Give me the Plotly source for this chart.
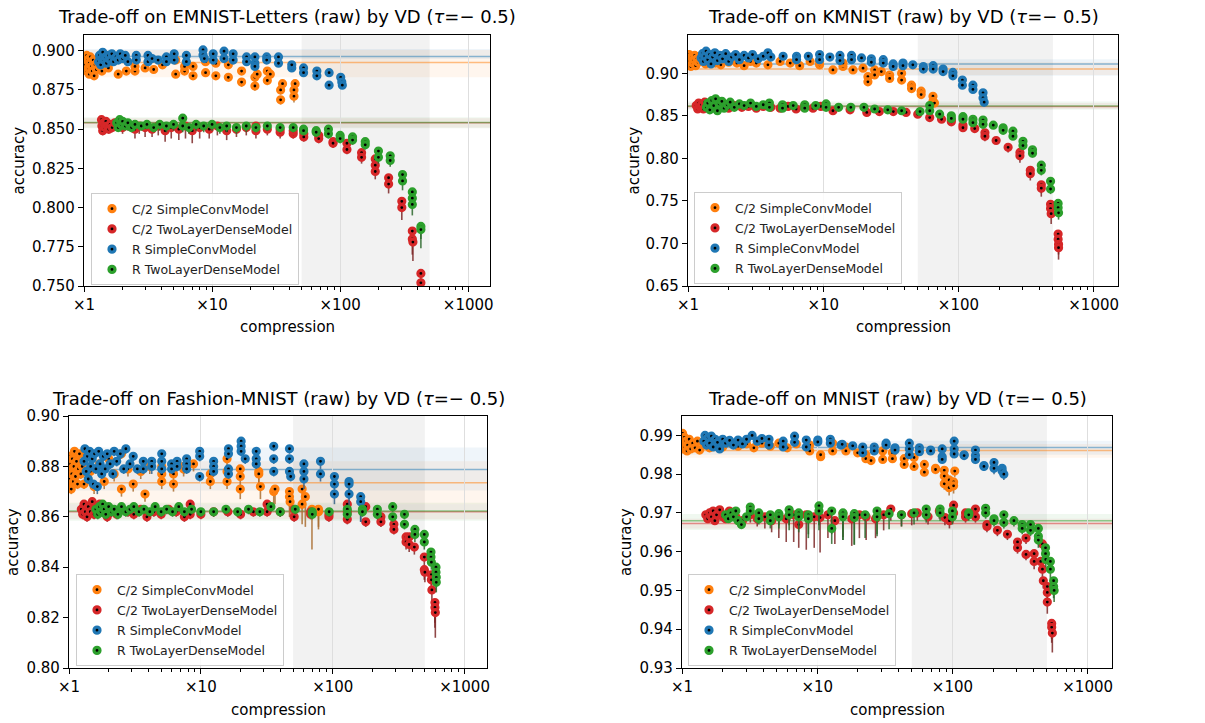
import plotly.graph_objects as go

FONT = "DejaVu Sans"
W, H = 1205, 723

SERIES_NAMES = ["C/2 SimpleConvModel", "C/2 TwoLayerDenseModel",
                "R SimpleConvModel", "R TwoLayerDenseModel"]
SERIES_COLORS = ["#ff7f0e", "#d62728", "#1f77b4", "#2ca02c"]
ERR_COLORS = ["rgba(170,110,50,0.85)", "rgba(125,40,40,0.85)",
              "rgba(50,95,135,0.85)", "rgba(45,105,45,0.85)"]

PANEL_TITLES = [
    "Trade-off on EMNIST-Letters (raw) by VD (<i>τ</i>=− 0.5)",
    "Trade-off on KMNIST (raw) by VD (<i>τ</i>=− 0.5)",
    "Trade-off on Fashion-MNIST (raw) by VD (<i>τ</i>=− 0.5)",
    "Trade-off on MNIST (raw) by VD (<i>τ</i>=− 0.5)",
]
X_TICK_VALS = [1, 10, 100, 1000]
X_TICK_TEXT = ["×1", "×10", "×100", "×1000"]
HIGHLIGHT_RANGE = [50, 500]

# ---------------- EMNIST-Letters: (compression, accuracy, lower error) ----------------
EM_C2_CONV = [
    (1.00, 0.889, 0.002), (1.00, 0.893, 0.002), (1.02, 0.896, 0.002), (1.03, 0.891, 0.002),
    (1.05, 0.887, 0.002), (1.05, 0.897, 0.001), (1.07, 0.894, 0.002), (1.08, 0.889, 0.002),
    (1.10, 0.885, 0.002), (1.10, 0.892, 0.002), (1.12, 0.896, 0.001), (1.14, 0.890, 0.002),
    (1.16, 0.887, 0.002), (1.18, 0.894, 0.002), (1.20, 0.884, 0.002), (1.22, 0.891, 0.002),
    (1.25, 0.888, 0.002), (1.28, 0.893, 0.002), (1.32, 0.890, 0.002), (1.38, 0.887, 0.002),
    (1.45, 0.892, 0.002), (1.55, 0.889, 0.002), (1.65, 0.893, 0.002), (1.85, 0.885, 0.002),
    (2.14, 0.887, 0.002), (2.50, 0.887, 0.002), (2.50, 0.890, 0.002), (3.00, 0.889, 0.002),
    (3.50, 0.888, 0.002), (4.10, 0.891, 0.002), (5.20, 0.885, 0.002), (5.20, 0.894, 0.002),
    (6.10, 0.887, 0.002), (6.10, 0.890, 0.002), (7.10, 0.884, 0.002), (7.10, 0.890, 0.002),
    (8.90, 0.886, 0.002), (8.90, 0.893, 0.002), (10.7, 0.884, 0.002), (10.7, 0.892, 0.002),
    (13.4, 0.883, 0.002), (13.4, 0.891, 0.002), (17.0, 0.880, 0.003), (17.0, 0.887, 0.002),
    (21.6, 0.8775, 0.003), (21.6, 0.883, 0.003), (22.5, 0.885, 0.002), (27.0, 0.881, 0.003),
    (27.0, 0.887, 0.002), (28.5, 0.885, 0.002), (34.3, 0.8687, 0.003), (34.3, 0.875, 0.003),
    (35.5, 0.879, 0.003), (43.6, 0.871, 0.004), (43.6, 0.875, 0.003), (44.5, 0.879, 0.003),
]
EM_C2_DENSE = [
    (1.37, 0.856, 0.002), (1.38, 0.852, 0.003), (1.40, 0.849, 0.003), (1.42, 0.854, 0.002),
    (1.45, 0.851, 0.003), (1.48, 0.855, 0.002), (1.52, 0.852, 0.003), (1.56, 0.850, 0.003),
    (1.60, 0.853, 0.003), (1.66, 0.851, 0.003), (1.74, 0.854, 0.003), (1.85, 0.852, 0.003),
    (2.00, 0.851, 0.004), (2.20, 0.853, 0.004), (2.50, 0.850, 0.006), (2.70, 0.852, 0.005),
    (3.00, 0.851, 0.006), (3.40, 0.850, 0.005), (3.80, 0.852, 0.006), (4.30, 0.849, 0.007),
    (4.80, 0.851, 0.007), (5.50, 0.850, 0.007), (6.20, 0.852, 0.008), (7.00, 0.849, 0.008),
    (8.00, 0.851, 0.007), (9.50, 0.850, 0.006), (11.0, 0.852, 0.006), (13.0, 0.849, 0.006),
    (15.5, 0.850, 0.005), (18.5, 0.851, 0.005), (22.0, 0.852, 0.004), (22.0, 0.849, 0.005),
    (27.0, 0.850, 0.004), (34.0, 0.848, 0.004), (34.0, 0.850, 0.003), (43.0, 0.847, 0.003),
    (43.0, 0.849, 0.003), (52.0, 0.847, 0.003), (52.0, 0.845, 0.003), (68.0, 0.846, 0.003),
    (68.0, 0.844, 0.003), (88.0, 0.842, 0.003), (88.0, 0.841, 0.003), (113, 0.841, 0.003),
    (113, 0.837, 0.003), (147, 0.835, 0.004), (147, 0.832, 0.004), (188, 0.831, 0.004),
    (188, 0.827, 0.004), (188, 0.823, 0.005), (239, 0.819, 0.005), (239, 0.815, 0.006),
    (303, 0.804, 0.006), (303, 0.800, 0.008), (366, 0.785, 0.008), (366, 0.780, 0.010),
    (370, 0.778, 0.012), (427, 0.758, 0.008), (427, 0.752, 0.008), (430, 0.746, 0.008),
]
EM_R_CONV = [
    (1.30, 0.893, 0.002), (1.32, 0.897, 0.002), (1.35, 0.891, 0.002), (1.38, 0.895, 0.002),
    (1.40, 0.899, 0.002), (1.43, 0.894, 0.002), (1.47, 0.896, 0.002), (1.50, 0.892, 0.002),
    (1.55, 0.897, 0.002), (1.60, 0.894, 0.002), (1.65, 0.898, 0.002), (1.70, 0.893, 0.002),
    (1.78, 0.896, 0.002), (1.85, 0.894, 0.002), (1.92, 0.898, 0.002), (2.00, 0.895, 0.002),
    (2.10, 0.897, 0.002), (2.20, 0.893, 0.002), (2.56, 0.897, 0.002), (2.56, 0.894, 0.002),
    (3.16, 0.897, 0.002), (3.16, 0.893, 0.002), (3.40, 0.895, 0.002), (3.79, 0.894, 0.002),
    (4.40, 0.896, 0.002), (4.40, 0.893, 0.002), (5.06, 0.898, 0.002), (5.06, 0.894, 0.002),
    (6.30, 0.897, 0.002), (6.30, 0.893, 0.002), (8.50, 0.9005, 0.002), (8.50, 0.8973, 0.002),
    (8.70, 0.895, 0.002), (10.2, 0.898, 0.002), (10.2, 0.894, 0.002), (12.4, 0.8997, 0.002),
    (12.4, 0.895, 0.002), (14.6, 0.898, 0.002), (14.6, 0.894, 0.002), (18.6, 0.896, 0.002),
    (18.6, 0.893, 0.002), (21.6, 0.896, 0.002), (21.6, 0.892, 0.002), (21.6, 0.890, 0.002),
    (26.7, 0.896, 0.002), (26.7, 0.894, 0.002), (33.0, 0.896, 0.003), (33.0, 0.892, 0.002),
    (41.9, 0.889, 0.002), (41.9, 0.891, 0.002), (51.8, 0.889, 0.002), (51.8, 0.886, 0.002),
    (65.8, 0.887, 0.002), (65.8, 0.884, 0.002), (82.0, 0.886, 0.002), (82.0, 0.878, 0.002),
    (101, 0.883, 0.002), (103, 0.880, 0.002), (104, 0.878, 0.002),
]
EM_R_DENSE = [
    (1.80, 0.854, 0.002), (1.85, 0.851, 0.002), (1.90, 0.856, 0.002), (1.95, 0.853, 0.002),
    (2.00, 0.855, 0.002), (2.10, 0.852, 0.002), (2.20, 0.854, 0.002), (2.35, 0.851, 0.003),
    (2.50, 0.853, 0.003), (2.80, 0.852, 0.003), (3.10, 0.853, 0.003), (3.50, 0.851, 0.003),
    (3.90, 0.853, 0.004), (4.40, 0.852, 0.004), (5.00, 0.853, 0.004), (5.90, 0.857, 0.003),
    (5.90, 0.852, 0.004), (6.60, 0.851, 0.004), (7.50, 0.853, 0.004), (8.60, 0.852, 0.004),
    (10.0, 0.853, 0.004), (11.5, 0.851, 0.004), (13.0, 0.852, 0.004), (15.5, 0.851, 0.004),
    (18.5, 0.852, 0.004), (22.0, 0.851, 0.003), (27.0, 0.852, 0.003), (34.0, 0.851, 0.003),
    (43.0, 0.851, 0.003), (51.8, 0.850, 0.003), (51.8, 0.849, 0.003), (65.0, 0.849, 0.003),
    (65.0, 0.848, 0.003), (81.0, 0.850, 0.003), (81.0, 0.847, 0.003), (100, 0.846, 0.003),
    (100, 0.844, 0.003), (125, 0.845, 0.003), (125, 0.843, 0.003), (157, 0.842, 0.003),
    (157, 0.840, 0.003), (199, 0.836, 0.004), (199, 0.832, 0.004), (246, 0.833, 0.004),
    (246, 0.830, 0.004), (307, 0.821, 0.005), (307, 0.817, 0.006), (366, 0.810, 0.006),
    (366, 0.806, 0.006), (366, 0.802, 0.007), (427, 0.788, 0.008), (427, 0.786, 0.012),
]
EM_REF_MEAN = [0.8924, 0.8540, 0.8963, 0.8542]
EM_REF_LOW = [0.8830, 0.8510, 0.8947, 0.8506]
EM_REF_HIGH = [0.9005, 0.8570, 0.9010, 0.8576]

# ---------------- KMNIST ----------------
KM_C2_CONV = [
    (1.00, 0.910, 0.002), (1.00, 0.918, 0.002), (1.02, 0.922, 0.002), (1.03, 0.914, 0.002),
    (1.05, 0.908, 0.002), (1.06, 0.919, 0.002), (1.08, 0.912, 0.002), (1.10, 0.916, 0.002),
    (1.12, 0.921, 0.002), (1.14, 0.909, 0.002), (1.16, 0.917, 0.002), (1.19, 0.913, 0.002),
    (1.22, 0.920, 0.002), (1.25, 0.915, 0.002), (1.35, 0.911, 0.002), (1.45, 0.914, 0.002),
    (1.60, 0.912, 0.002), (1.75, 0.910, 0.002), (2.00, 0.913, 0.002), (2.30, 0.912, 0.002),
    (2.60, 0.909, 0.002), (2.90, 0.914, 0.002), (3.20, 0.912, 0.002), (3.90, 0.910, 0.002),
    (4.80, 0.914, 0.002), (5.70, 0.912, 0.002), (6.70, 0.909, 0.002), (8.00, 0.914, 0.002),
    (9.40, 0.910, 0.002), (9.40, 0.914, 0.002), (11.8, 0.904, 0.003), (14.0, 0.908, 0.003),
    (14.0, 0.912, 0.002), (16.6, 0.904, 0.003), (19.7, 0.906, 0.003), (21.4, 0.896, 0.003),
    (21.4, 0.890, 0.003), (24.0, 0.904, 0.003), (24.0, 0.898, 0.003), (26.9, 0.902, 0.003),
    (31.0, 0.898, 0.003), (31.0, 0.894, 0.003), (38.0, 0.900, 0.003), (38.0, 0.892, 0.003),
    (45.0, 0.886, 0.004), (45.0, 0.882, 0.004), (53.0, 0.879, 0.004), (53.0, 0.875, 0.004),
    (64.8, 0.873, 0.004), (64.8, 0.867, 0.004), (66.5, 0.865, 0.004),
]
KM_C2_DENSE = [
    (1.15, 0.862, 0.003), (1.18, 0.858, 0.003), (1.20, 0.865, 0.003), (1.23, 0.860, 0.003),
    (1.26, 0.863, 0.003), (1.30, 0.858, 0.003), (1.33, 0.866, 0.003), (1.37, 0.861, 0.003),
    (1.42, 0.864, 0.003), (1.48, 0.859, 0.003), (1.55, 0.862, 0.003), (1.65, 0.860, 0.003),
    (1.80, 0.863, 0.003), (2.00, 0.859, 0.003), (2.20, 0.862, 0.004), (2.50, 0.860, 0.004),
    (2.80, 0.861, 0.004), (3.20, 0.859, 0.004), (3.60, 0.861, 0.004), (4.10, 0.860, 0.004),
    (4.80, 0.859, 0.004), (5.50, 0.861, 0.004), (6.30, 0.858, 0.004), (7.20, 0.860, 0.004),
    (8.40, 0.859, 0.004), (9.60, 0.861, 0.004), (11.8, 0.856, 0.004), (15.8, 0.857, 0.004),
    (21.0, 0.854, 0.004), (26.0, 0.855, 0.004), (33.0, 0.855, 0.004), (41.0, 0.854, 0.004),
    (50.0, 0.852, 0.004), (61.3, 0.848, 0.004), (75.0, 0.846, 0.004), (88.6, 0.845, 0.004),
    (88.6, 0.843, 0.004), (108, 0.839, 0.004), (108, 0.836, 0.004), (132, 0.835, 0.004),
    (157, 0.830, 0.006), (157, 0.826, 0.006), (190, 0.821, 0.004), (233, 0.813, 0.006),
    (285, 0.807, 0.006), (285, 0.803, 0.008), (340, 0.786, 0.008), (340, 0.782, 0.008),
    (410, 0.769, 0.010), (410, 0.765, 0.010), (480, 0.746, 0.010), (480, 0.741, 0.010),
    (485, 0.735, 0.012), (546, 0.711, 0.010), (546, 0.705, 0.010), (550, 0.699, 0.012),
    (550, 0.695, 0.014),
]
KM_R_CONV = [
    (1.25, 0.918, 0.002), (1.28, 0.923, 0.002), (1.30, 0.914, 0.002), (1.33, 0.920, 0.002),
    (1.36, 0.926, 0.002), (1.40, 0.916, 0.002), (1.44, 0.922, 0.002), (1.48, 0.911, 0.002),
    (1.52, 0.919, 0.002), (1.58, 0.924, 0.002), (1.65, 0.915, 0.002), (1.72, 0.921, 0.002),
    (1.80, 0.917, 0.002), (1.90, 0.923, 0.002), (2.00, 0.914, 0.002), (2.10, 0.919, 0.002),
    (2.25, 0.922, 0.002), (2.40, 0.916, 0.002), (2.60, 0.921, 0.002), (2.80, 0.918, 0.002),
    (3.00, 0.922, 0.002), (3.30, 0.917, 0.002), (3.60, 0.920, 0.002), (3.90, 0.924, 0.002),
    (4.10, 0.919, 0.002), (5.05, 0.920, 0.002), (6.35, 0.920, 0.002), (6.35, 0.916, 0.002),
    (7.76, 0.920, 0.002), (9.40, 0.922, 0.002), (9.40, 0.916, 0.002), (11.2, 0.919, 0.002),
    (13.3, 0.921, 0.002), (13.3, 0.915, 0.002), (16.2, 0.921, 0.002), (16.2, 0.916, 0.002),
    (19.2, 0.918, 0.002), (22.7, 0.917, 0.002), (22.7, 0.913, 0.002), (27.8, 0.916, 0.002),
    (27.8, 0.912, 0.002), (32.9, 0.911, 0.002), (32.9, 0.908, 0.002), (38.9, 0.912, 0.002),
    (38.9, 0.909, 0.002), (46.0, 0.910, 0.002), (55.0, 0.908, 0.002), (55.0, 0.905, 0.002),
    (65.0, 0.909, 0.002), (65.0, 0.905, 0.002), (77.0, 0.905, 0.002), (77.0, 0.902, 0.002),
    (91.0, 0.901, 0.003), (91.0, 0.897, 0.003), (107, 0.892, 0.003), (107, 0.886, 0.003),
    (128, 0.886, 0.004), (128, 0.881, 0.004), (152, 0.877, 0.004), (152, 0.871, 0.004),
    (155, 0.866, 0.005),
]
KM_R_DENSE = [
    (1.37, 0.860, 0.002), (1.40, 0.865, 0.002), (1.45, 0.857, 0.002), (1.50, 0.868, 0.002),
    (1.55, 0.862, 0.002), (1.60, 0.870, 0.002), (1.65, 0.856, 0.002), (1.70, 0.864, 0.002),
    (1.78, 0.867, 0.002), (1.85, 0.859, 0.002), (1.95, 0.863, 0.002), (2.05, 0.866, 0.002),
    (2.20, 0.860, 0.002), (2.40, 0.864, 0.002), (2.60, 0.862, 0.002), (2.90, 0.865, 0.002),
    (3.20, 0.861, 0.002), (3.60, 0.863, 0.002), (4.00, 0.865, 0.002), (4.00, 0.860, 0.002),
    (5.00, 0.863, 0.002), (5.00, 0.859, 0.002), (6.00, 0.862, 0.003), (7.30, 0.863, 0.003),
    (7.30, 0.859, 0.003), (8.80, 0.862, 0.003), (10.5, 0.864, 0.003), (10.5, 0.860, 0.003),
    (13.0, 0.860, 0.003), (16.0, 0.860, 0.003), (20.0, 0.860, 0.003), (24.0, 0.858, 0.003),
    (30.0, 0.857, 0.003), (38.0, 0.856, 0.003), (52.0, 0.855, 0.003), (61.3, 0.862, 0.003),
    (61.3, 0.856, 0.003), (72.6, 0.852, 0.003), (88.6, 0.850, 0.003), (88.6, 0.847, 0.003),
    (108, 0.849, 0.003), (108, 0.846, 0.003), (128, 0.846, 0.003), (128, 0.842, 0.003),
    (152, 0.845, 0.003), (152, 0.840, 0.003), (181, 0.839, 0.003), (214, 0.836, 0.003),
    (214, 0.833, 0.003), (253, 0.832, 0.004), (253, 0.826, 0.004), (300, 0.820, 0.004),
    (300, 0.815, 0.004), (353, 0.810, 0.005), (353, 0.806, 0.005), (410, 0.792, 0.006),
    (410, 0.786, 0.006), (480, 0.773, 0.006), (480, 0.764, 0.006), (546, 0.747, 0.006),
    (546, 0.742, 0.006), (550, 0.736, 0.008),
]
KM_REF_MEAN = [0.9050, 0.8610, 0.9110, 0.8617]
KM_REF_LOW = [0.8980, 0.8580, 0.8970, 0.8570]
KM_REF_HIGH = [0.9130, 0.8650, 0.9166, 0.8667]

# ---------------- Fashion-MNIST ----------------
FM_C2_CONV = [
    (1.00, 0.872, 0.002), (1.00, 0.878, 0.002), (1.01, 0.884, 0.002), (1.02, 0.875, 0.002),
    (1.03, 0.881, 0.002), (1.04, 0.871, 0.002), (1.05, 0.877, 0.002), (1.06, 0.883, 0.002),
    (1.08, 0.874, 0.002), (1.09, 0.880, 0.002), (1.10, 0.886, 0.002), (1.12, 0.876, 0.002),
    (1.14, 0.882, 0.002), (1.16, 0.873, 0.002), (1.18, 0.879, 0.002), (1.20, 0.885, 0.002),
    (1.23, 0.877, 0.002), (1.26, 0.880, 0.002), (1.30, 0.873, 0.002), (1.35, 0.884, 0.002),
    (1.45, 0.878, 0.002), (1.55, 0.872, 0.003), (1.70, 0.881, 0.002), (1.85, 0.874, 0.003),
    (2.00, 0.883, 0.002), (2.20, 0.877, 0.003), (2.50, 0.871, 0.003), (2.50, 0.885, 0.002),
    (2.80, 0.879, 0.003), (3.07, 0.873, 0.003), (3.50, 0.878, 0.003), (3.77, 0.869, 0.003),
    (4.10, 0.880, 0.003), (5.05, 0.880, 0.003), (5.05, 0.877, 0.003), (5.05, 0.874, 0.003),
    (6.20, 0.873, 0.003), (6.20, 0.877, 0.003), (7.40, 0.880, 0.003), (7.40, 0.879, 0.003),
    (8.80, 0.881, 0.003), (11.8, 0.874, 0.003), (11.8, 0.877, 0.003), (15.8, 0.883, 0.003),
    (15.8, 0.878, 0.003), (15.8, 0.874, 0.003), (19.9, 0.871, 0.004), (19.9, 0.876, 0.004),
    (19.9, 0.879, 0.004), (27.5, 0.878, 0.006), (27.5, 0.877, 0.005), (28.3, 0.872, 0.005),
    (35.7, 0.870, 0.006), (36.5, 0.871, 0.006), (47.0, 0.870, 0.006), (47.0, 0.868, 0.008),
    (47.5, 0.866, 0.006), (58.6, 0.871, 0.008), (58.6, 0.865, 0.008), (62.0, 0.868, 0.012),
    (69.6, 0.863, 0.016), (78.0, 0.862, 0.006), (78.0, 0.863, 0.008),
]
FM_C2_DENSE = [
    (1.24, 0.863, 0.002), (1.27, 0.861, 0.002), (1.30, 0.865, 0.002), (1.33, 0.862, 0.002),
    (1.37, 0.860, 0.002), (1.40, 0.864, 0.002), (1.45, 0.862, 0.002), (1.50, 0.866, 0.002),
    (1.55, 0.861, 0.002), (1.60, 0.863, 0.002), (1.71, 0.865, 0.002), (1.80, 0.862, 0.002),
    (1.95, 0.860, 0.002), (2.10, 0.863, 0.002), (2.30, 0.861, 0.002), (2.50, 0.863, 0.002),
    (2.80, 0.862, 0.002), (3.10, 0.861, 0.002), (3.50, 0.863, 0.002), (3.90, 0.860, 0.002),
    (4.40, 0.862, 0.002), (5.00, 0.861, 0.002), (5.70, 0.863, 0.002), (6.50, 0.862, 0.002),
    (7.50, 0.860, 0.002), (8.30, 0.865, 0.002), (8.30, 0.861, 0.002), (10.0, 0.861, 0.002),
    (12.5, 0.862, 0.002), (16.0, 0.862, 0.002), (20.0, 0.861, 0.002), (25.0, 0.862, 0.002),
    (31.8, 0.865, 0.002), (31.8, 0.862, 0.002), (40.0, 0.862, 0.002), (51.0, 0.863, 0.002),
    (51.0, 0.860, 0.002), (68.0, 0.862, 0.002), (68.0, 0.861, 0.002), (93.6, 0.860, 0.002),
    (93.6, 0.861, 0.002), (129, 0.865, 0.002), (129, 0.859, 0.002), (129, 0.862, 0.002),
    (178, 0.864, 0.002), (178, 0.858, 0.002), (232, 0.860, 0.002), (232, 0.858, 0.002),
    (291, 0.857, 0.002), (291, 0.855, 0.002), (360, 0.852, 0.003), (360, 0.850, 0.003),
    (380, 0.852, 0.003), (380, 0.849, 0.003), (416, 0.848, 0.003), (495, 0.844, 0.004),
    (495, 0.839, 0.004), (500, 0.838, 0.004), (560, 0.837, 0.004), (560, 0.835, 0.004),
    (565, 0.831, 0.005), (596, 0.826, 0.008), (596, 0.824, 0.008), (600, 0.822, 0.010),
]
FM_R_CONV = [
    (1.30, 0.882, 0.002), (1.32, 0.887, 0.002), (1.35, 0.878, 0.002), (1.38, 0.884, 0.002),
    (1.40, 0.875, 0.002), (1.43, 0.886, 0.002), (1.46, 0.880, 0.002), (1.50, 0.883, 0.002),
    (1.53, 0.873, 0.002), (1.56, 0.885, 0.002), (1.60, 0.879, 0.002), (1.64, 0.872, 0.003),
    (1.68, 0.886, 0.002), (1.72, 0.881, 0.002), (1.77, 0.877, 0.002), (1.82, 0.884, 0.002),
    (1.88, 0.879, 0.002), (1.95, 0.885, 0.002), (2.05, 0.881, 0.002), (2.15, 0.877, 0.002),
    (2.20, 0.886, 0.002), (2.30, 0.882, 0.002), (2.45, 0.885, 0.002), (2.60, 0.879, 0.002),
    (2.70, 0.887, 0.002), (2.90, 0.881, 0.002), (3.07, 0.884, 0.002), (3.30, 0.879, 0.002),
    (3.66, 0.882, 0.002), (3.66, 0.879, 0.002), (4.24, 0.882, 0.003), (4.24, 0.880, 0.003),
    (5.05, 0.885, 0.002), (5.05, 0.882, 0.002), (5.05, 0.879, 0.002), (6.00, 0.881, 0.002),
    (6.00, 0.879, 0.002), (6.60, 0.882, 0.002), (6.60, 0.880, 0.002), (7.80, 0.883, 0.002),
    (7.80, 0.881, 0.002), (7.80, 0.879, 0.002), (9.80, 0.886, 0.002), (9.80, 0.884, 0.002),
    (9.80, 0.876, 0.002), (12.5, 0.882, 0.002), (12.5, 0.880, 0.002), (12.5, 0.878, 0.002),
    (16.2, 0.887, 0.002), (16.2, 0.885, 0.002), (16.2, 0.879, 0.002), (16.2, 0.877, 0.002),
    (20.2, 0.890, 0.002), (20.2, 0.888, 0.002), (20.2, 0.886, 0.002), (21.7, 0.883, 0.002),
    (26.3, 0.886, 0.002), (26.3, 0.883, 0.002), (26.3, 0.881, 0.002), (35.7, 0.888, 0.002),
    (35.7, 0.883, 0.002), (35.7, 0.878, 0.002), (47.0, 0.887, 0.002), (47.0, 0.883, 0.002),
    (47.0, 0.878, 0.002), (48.0, 0.876, 0.002), (60.5, 0.881, 0.003), (60.5, 0.878, 0.003),
    (60.5, 0.875, 0.004), (80.8, 0.882, 0.003), (80.8, 0.877, 0.003), (103, 0.876, 0.004),
    (103, 0.873, 0.004), (103, 0.869, 0.004), (133, 0.874, 0.006), (133, 0.873, 0.006),
    (133, 0.869, 0.006), (163, 0.868, 0.010), (163, 0.866, 0.008),
]
FM_R_DENSE = [
    (1.60, 0.863, 0.002), (1.65, 0.861, 0.002), (1.70, 0.864, 0.002), (1.75, 0.862, 0.002),
    (1.80, 0.865, 0.002), (1.85, 0.863, 0.002), (1.90, 0.861, 0.002), (2.00, 0.864, 0.002),
    (2.10, 0.862, 0.002), (2.20, 0.863, 0.002), (2.35, 0.861, 0.002), (2.50, 0.864, 0.002),
    (2.70, 0.862, 0.002), (2.90, 0.863, 0.002), (3.10, 0.864, 0.002), (3.40, 0.862, 0.002),
    (3.70, 0.863, 0.002), (4.10, 0.862, 0.002), (4.50, 0.864, 0.002), (5.00, 0.862, 0.002),
    (5.50, 0.863, 0.002), (6.10, 0.862, 0.002), (6.80, 0.864, 0.002), (7.50, 0.862, 0.002),
    (8.50, 0.863, 0.002), (10.0, 0.862, 0.002), (12.5, 0.862, 0.002), (15.5, 0.863, 0.002),
    (19.0, 0.862, 0.002), (23.0, 0.863, 0.002), (28.0, 0.862, 0.002), (34.0, 0.864, 0.002),
    (40.0, 0.862, 0.002), (52.0, 0.863, 0.002), (70.0, 0.862, 0.002), (70.0, 0.861, 0.002),
    (94.0, 0.862, 0.002), (129, 0.863, 0.002), (129, 0.861, 0.002), (168, 0.863, 0.002),
    (168, 0.862, 0.002), (218, 0.863, 0.002), (218, 0.861, 0.002), (285, 0.864, 0.002),
    (285, 0.860, 0.002), (350, 0.861, 0.002), (350, 0.857, 0.002), (420, 0.855, 0.002),
    (420, 0.853, 0.003), (495, 0.853, 0.003), (495, 0.850, 0.003), (556, 0.846, 0.003),
    (556, 0.844, 0.003), (560, 0.842, 0.003), (607, 0.840, 0.003), (607, 0.838, 0.003),
    (610, 0.836, 0.004), (610, 0.834, 0.004),
]
FM_REF_MEAN = [0.8735, 0.8620, 0.8788, 0.8623]
FM_REF_LOW = [0.8650, 0.8590, 0.8704, 0.8584]
FM_REF_HIGH = [0.8820, 0.8650, 0.8875, 0.8656]

# ---------------- MNIST ----------------
MN_C2_CONV = [
    (1.00, 0.9880, 0.0008), (1.01, 0.9905, 0.0008), (1.02, 0.9865, 0.0008), (1.04, 0.9895, 0.0008),
    (1.05, 0.9870, 0.0008), (1.07, 0.9885, 0.0008), (1.09, 0.9860, 0.0008), (1.10, 0.9875, 0.0008),
    (1.13, 0.9890, 0.0008), (1.16, 0.9865, 0.0008), (1.20, 0.9880, 0.0008), (1.25, 0.9868, 0.0008),
    (1.30, 0.9885, 0.0008), (1.35, 0.9862, 0.0008), (1.45, 0.9875, 0.0008), (1.60, 0.9868, 0.0008),
    (1.80, 0.9878, 0.0008), (2.00, 0.9870, 0.0008), (2.30, 0.9880, 0.0008), (2.60, 0.9872, 0.0008),
    (3.00, 0.9878, 0.0008), (3.40, 0.9868, 0.0008), (3.90, 0.9880, 0.0008), (4.50, 0.9872, 0.0008),
    (5.20, 0.9880, 0.0008), (6.00, 0.9868, 0.0008), (7.00, 0.9878, 0.0008), (8.80, 0.9875, 0.0008),
    (8.80, 0.9860, 0.0008), (10.6, 0.9845, 0.0008), (10.6, 0.9850, 0.0008), (13.0, 0.9860, 0.0008),
    (13.0, 0.9880, 0.0008), (16.3, 0.9870, 0.0008), (16.3, 0.9860, 0.0008), (19.9, 0.9855, 0.0008),
    (22.9, 0.9850, 0.0008), (22.9, 0.9840, 0.0008), (25.0, 0.9835, 0.0008), (30.5, 0.9860, 0.0008),
    (30.5, 0.9838, 0.0008), (36.0, 0.9855, 0.0008), (36.0, 0.9840, 0.0008), (44.0, 0.9840, 0.0010),
    (44.0, 0.9825, 0.0010), (52.0, 0.9843, 0.0010), (52.0, 0.9820, 0.0010), (62.0, 0.9825, 0.0010),
    (62.0, 0.9805, 0.0010), (75.0, 0.9815, 0.0012), (75.0, 0.9812, 0.0012), (87.0, 0.9810, 0.0015),
    (87.0, 0.9795, 0.0015), (87.0, 0.9775, 0.0015), (94.5, 0.9785, 0.0020), (94.5, 0.9765, 0.0020),
    (102, 0.9780, 0.0020), (102, 0.9770, 0.0020), (104, 0.9808, 0.0015),
]
MN_C2_DENSE = [
    (1.50, 0.9695, 0.0010), (1.55, 0.9685, 0.0010), (1.60, 0.9700, 0.0010), (1.65, 0.9690, 0.0010),
    (1.70, 0.9705, 0.0010), (1.75, 0.9680, 0.0010), (1.80, 0.9695, 0.0010), (1.90, 0.9708, 0.0010),
    (2.00, 0.9690, 0.0010), (2.10, 0.9685, 0.0010), (2.24, 0.9705, 0.0010), (2.50, 0.9690, 0.0015),
    (2.80, 0.9680, 0.0015), (3.20, 0.9695, 0.0020), (3.60, 0.9685, 0.0020), (4.10, 0.9690, 0.0030),
    (4.60, 0.9680, 0.0030), (5.20, 0.9695, 0.0060), (5.90, 0.9685, 0.0060), (6.70, 0.9695, 0.0070),
    (7.30, 0.9670, 0.0060), (8.30, 0.9695, 0.0090), (9.50, 0.9690, 0.0080), (10.5, 0.9688, 0.0090),
    (12.0, 0.9695, 0.0060), (13.5, 0.9680, 0.0060), (15.5, 0.9698, 0.0060), (18.0, 0.9685, 0.0070),
    (20.5, 0.9695, 0.0060), (23.0, 0.9690, 0.0060), (27.0, 0.9685, 0.0050), (31.0, 0.9695, 0.0040),
    (35.0, 0.9710, 0.0030), (42.0, 0.9695, 0.0030), (50.0, 0.9698, 0.0030), (55.0, 0.9700, 0.0020),
    (66.0, 0.9690, 0.0020), (80.0, 0.9705, 0.0020), (88.0, 0.9688, 0.0020), (95.0, 0.9680, 0.0020),
    (102, 0.9720, 0.0015), (102, 0.9700, 0.0015), (125, 0.9700, 0.0015), (125, 0.9690, 0.0015),
    (148, 0.9710, 0.0015), (148, 0.9690, 0.0015), (180, 0.9665, 0.0015), (180, 0.9670, 0.0015),
    (215, 0.9655, 0.0015), (255, 0.9645, 0.0015), (303, 0.9625, 0.0015), (303, 0.9610, 0.0015),
    (350, 0.9593, 0.0015), (350, 0.9635, 0.0015), (402, 0.9595, 0.0020), (402, 0.9575, 0.0020),
    (450, 0.9575, 0.0020), (463, 0.9620, 0.0020), (463, 0.9555, 0.0020), (470, 0.9525, 0.0020),
    (503, 0.9510, 0.0030), (503, 0.9495, 0.0030), (503, 0.9470, 0.0030), (542, 0.9415, 0.0040),
    (542, 0.9405, 0.0040), (548, 0.9390, 0.0050),
]
MN_R_CONV = [
    (1.45, 0.9885, 0.0008), (1.48, 0.9900, 0.0008), (1.52, 0.9875, 0.0008), (1.56, 0.9895, 0.0008),
    (1.60, 0.9880, 0.0008), (1.65, 0.9898, 0.0008), (1.70, 0.9870, 0.0008), (1.76, 0.9890, 0.0008),
    (1.83, 0.9882, 0.0008), (1.90, 0.9865, 0.0008), (2.00, 0.9890, 0.0008), (2.10, 0.9880, 0.0008),
    (2.25, 0.9887, 0.0008), (2.40, 0.9875, 0.0008), (2.60, 0.9888, 0.0008), (2.80, 0.9878, 0.0008),
    (3.00, 0.9890, 0.0008), (3.30, 0.9900, 0.0008), (3.60, 0.9885, 0.0008), (3.90, 0.9892, 0.0008),
    (4.40, 0.9890, 0.0008), (4.40, 0.9875, 0.0008), (5.60, 0.9885, 0.0008), (5.60, 0.9870, 0.0008),
    (6.80, 0.9898, 0.0008), (6.80, 0.9882, 0.0008), (8.30, 0.9888, 0.0008), (8.30, 0.9870, 0.0008),
    (10.1, 0.9888, 0.0008), (10.1, 0.9883, 0.0008), (12.5, 0.9890, 0.0008), (12.5, 0.9880, 0.0008),
    (15.0, 0.9875, 0.0008), (15.3, 0.9877, 0.0008), (18.3, 0.9873, 0.0008), (21.7, 0.9870, 0.0008),
    (21.7, 0.9855, 0.0008), (26.4, 0.9870, 0.0008), (26.4, 0.9860, 0.0008), (32.3, 0.9880, 0.0008),
    (32.3, 0.9875, 0.0008), (37.6, 0.9868, 0.0008), (37.6, 0.9862, 0.0008), (48.0, 0.9880, 0.0008),
    (48.0, 0.9865, 0.0008), (48.0, 0.9850, 0.0008), (57.0, 0.9868, 0.0008), (57.0, 0.9858, 0.0008),
    (69.0, 0.9862, 0.0008), (69.0, 0.9860, 0.0008), (84.0, 0.9865, 0.0010), (84.0, 0.9845, 0.0010),
    (84.0, 0.9838, 0.0010), (103, 0.9885, 0.0010), (103, 0.9865, 0.0010), (103, 0.9852, 0.0010),
    (122, 0.9850, 0.0010), (122, 0.9848, 0.0010), (148, 0.9862, 0.0012), (148, 0.9848, 0.0012),
    (148, 0.9838, 0.0012), (171, 0.9822, 0.0012), (171, 0.9820, 0.0012), (203, 0.9830, 0.0015),
    (203, 0.9815, 0.0015), (233, 0.9815, 0.0015), (233, 0.9808, 0.0015), (240, 0.9800, 0.0015),
]
MN_R_DENSE = [
    (2.10, 0.9695, 0.0010), (2.20, 0.9685, 0.0010), (2.30, 0.9700, 0.0010), (2.40, 0.9690, 0.0010),
    (2.50, 0.9705, 0.0010), (2.60, 0.9680, 0.0010), (2.75, 0.9670, 0.0010), (3.00, 0.9690, 0.0010),
    (3.20, 0.9715, 0.0010), (3.20, 0.9705, 0.0010), (3.70, 0.9700, 0.0015), (3.70, 0.9685, 0.0015),
    (4.50, 0.9695, 0.0020), (4.50, 0.9680, 0.0020), (5.20, 0.9698, 0.0030), (5.20, 0.9690, 0.0030),
    (6.20, 0.9708, 0.0040), (6.20, 0.9695, 0.0040), (7.30, 0.9700, 0.0040), (7.30, 0.9690, 0.0040),
    (8.60, 0.9695, 0.0050), (8.60, 0.9685, 0.0050), (10.3, 0.9718, 0.0050), (10.3, 0.9705, 0.0050),
    (12.8, 0.9705, 0.0060), (12.8, 0.9660, 0.0040), (15.5, 0.9700, 0.0070), (15.5, 0.9690, 0.0060),
    (18.8, 0.9698, 0.0080), (18.8, 0.9688, 0.0070), (22.6, 0.9695, 0.0060), (27.7, 0.9705, 0.0060),
    (27.7, 0.9690, 0.0050), (34.0, 0.9698, 0.0040), (42.0, 0.9695, 0.0030), (52.0, 0.9700, 0.0030),
    (64.0, 0.9710, 0.0020), (64.0, 0.9695, 0.0020), (81.0, 0.9710, 0.0020), (81.0, 0.9700, 0.0020),
    (100, 0.9705, 0.0020), (100, 0.9690, 0.0020), (132, 0.9700, 0.0015), (132, 0.9695, 0.0015),
    (176, 0.9712, 0.0015), (176, 0.9700, 0.0015), (203, 0.9685, 0.0015), (203, 0.9680, 0.0015),
    (240, 0.9695, 0.0015), (240, 0.9675, 0.0015), (285, 0.9680, 0.0015), (328, 0.9670, 0.0015),
    (328, 0.9660, 0.0015), (378, 0.9670, 0.0015), (378, 0.9655, 0.0015), (432, 0.9660, 0.0020),
    (432, 0.9640, 0.0020), (432, 0.9630, 0.0020), (488, 0.9610, 0.0020), (488, 0.9595, 0.0020),
    (490, 0.9580, 0.0020), (530, 0.9575, 0.0025), (530, 0.9555, 0.0025), (560, 0.9525, 0.0030),
    (560, 0.9510, 0.0030), (565, 0.9500, 0.0030),
]
MN_REF_MEAN = [0.9861, 0.9673, 0.9869, 0.9680]
MN_REF_LOW = [0.9842, 0.9660, 0.9850, 0.9656]
MN_REF_HIGH = [0.9878, 0.9685, 0.9886, 0.9697]

PANEL_SERIES = [
    [EM_C2_CONV, EM_C2_DENSE, EM_R_CONV, EM_R_DENSE],
    [KM_C2_CONV, KM_C2_DENSE, KM_R_CONV, KM_R_DENSE],
    [FM_C2_CONV, FM_C2_DENSE, FM_R_CONV, FM_R_DENSE],
    [MN_C2_CONV, MN_C2_DENSE, MN_R_CONV, MN_R_DENSE],
]
PANEL_REFS = [
    (EM_REF_MEAN, EM_REF_LOW, EM_REF_HIGH),
    (KM_REF_MEAN, KM_REF_LOW, KM_REF_HIGH),
    (FM_REF_MEAN, FM_REF_LOW, FM_REF_HIGH),
    (MN_REF_MEAN, MN_REF_LOW, MN_REF_HIGH),
]
Y_RANGES = [(0.75, 0.910), (0.65, 0.945), (0.80, 0.90), (0.93, 0.995)]
Y_DTICK = [0.025, 0.05, 0.02, 0.01]
Y_FORMAT = [".3f", ".2f", ".2f", ".2f"]
X_LOG_MAX = [3.17, 3.18, 3.17, 3.18]

# ---------------- layout geometry (pixels) ----------------
PANEL_BOX = [(84, 490, 35, 286), (688, 1118, 35, 286), (69, 487, 416, 668), (682, 1112, 416, 668)]
LEGEND_POS = [(91, 193), (694, 192), (76, 574), (688, 574)]
YLABEL_X = [18, 633, 13, 626]
XLABEL_Y = [327, 327, 710, 710]
TITLE_Y = [16, 16, 398, 398]


def hex_rgba(h, a):
    h = h.lstrip("#")
    return f"rgba({int(h[0:2],16)},{int(h[2:4],16)},{int(h[4:6],16)},{a})"


fig = go.Figure()
minor_vals = [m * d for d in (1, 10, 100, 1000) for m in range(2, 10)]
shapes = []
annotations = []
layout_extra = {}

for p in range(4):
    ax = "" if p == 0 else str(p + 1)
    xa, ya = "x" + ax, "y" + ax
    leg = "legend" if p == 0 else f"legend{p + 1}"
    l, r, t, b = PANEL_BOX[p]
    layout_extra["xaxis" + ax] = dict(
        type="log", range=[0, X_LOG_MAX[p]], domain=[l / W, r / W], anchor=ya,
        automargin=False,
        tickvals=X_TICK_VALS, ticktext=X_TICK_TEXT, ticks="outside", ticklen=5,
        tickcolor="black", showline=True, linecolor="black", linewidth=1.2, mirror=True,
        showgrid=True, gridcolor="#dedede", gridwidth=1, zeroline=False,
        tickfont=dict(family=FONT, size=15, color="black"),
        minor=dict(tickvals=minor_vals, ticks="outside", ticklen=3, tickcolor="black",
                   showgrid=False),
    )
    layout_extra["yaxis" + ax] = dict(
        range=list(Y_RANGES[p]), domain=[1 - b / H, 1 - t / H], anchor=xa,
        automargin=False,
        tick0=Y_RANGES[p][0], dtick=Y_DTICK[p], tickformat=Y_FORMAT[p],
        ticks="outside", ticklen=5, tickcolor="black", showline=True, linecolor="black",
        linewidth=1.2, mirror=True, showgrid=False, zeroline=False,
        tickfont=dict(family=FONT, size=15, color="black"),
    )
    lx, ly = LEGEND_POS[p]
    layout_extra[leg] = dict(
        x=lx / W, y=1 - ly / H, xanchor="left", yanchor="top",
        bgcolor="rgba(255,255,255,0.85)", bordercolor="#cccccc", borderwidth=1,
        font=dict(family=FONT, size=12.5, color="#222222"),
        traceorder="grouped", tracegroupgap=1, itemwidth=30,
    )

    # highlighted compression range
    shapes.append(dict(type="rect", xref=xa, yref=ya + " domain", x0=HIGHLIGHT_RANGE[0],
                       x1=HIGHLIGHT_RANGE[1], y0=0, y1=1, fillcolor="rgba(0,0,0,0.05)",
                       line=dict(width=0), layer="below"))
    means, lows, highs = PANEL_REFS[p]
    for s in range(4):
        shapes.append(dict(type="rect", xref=xa + " domain", yref=ya, x0=0, x1=1,
                           y0=lows[s], y1=highs[s], fillcolor=hex_rgba(SERIES_COLORS[s], 0.07),
                           line=dict(width=0), layer="below"))
    for s in range(4):
        shapes.append(dict(type="line", xref=xa + " domain", yref=ya, x0=0, x1=1,
                           y0=means[s], y1=means[s],
                           line=dict(color=hex_rgba(SERIES_COLORS[s], 0.5), width=1.5),
                           layer="below"))

    for s in range(4):
        pts = PANEL_SERIES[p][s]
        xs = [q[0] for q in pts]
        ys = [q[1] for q in pts]
        es = [q[2] for q in pts]
        fig.add_trace(go.Scatter(
            x=xs, y=ys, mode="markers", name=SERIES_NAMES[s], xaxis=xa, yaxis=ya,
            legend=leg, legendgroup=f"p{p}s{s}",
            marker=dict(size=6, color="black", line=dict(color=SERIES_COLORS[s], width=3.2)),
            error_y=dict(type="data", symmetric=False, array=[0] * len(es), arrayminus=es,
                         color=ERR_COLORS[s], thickness=1.6, width=0),
        ))

    cx = (l + r) / 2
    annotations.append(dict(text=PANEL_TITLES[p], x=cx / W, y=1 - TITLE_Y[p] / H,
                            xref="paper", yref="paper", xanchor="center", yanchor="middle",
                            showarrow=False, font=dict(family=FONT, size=18, color="black")))
    annotations.append(dict(text="accuracy", x=YLABEL_X[p] / W, y=1 - (t + b) / 2 / H,
                            xref="paper", yref="paper", xanchor="center", yanchor="middle",
                            textangle=-90, showarrow=False,
                            font=dict(family=FONT, size=15, color="black")))
    annotations.append(dict(text="compression", x=cx / W, y=1 - XLABEL_Y[p] / H,
                            xref="paper", yref="paper", xanchor="center", yanchor="middle",
                            showarrow=False, font=dict(family=FONT, size=15, color="black")))

fig.update_layout(
    width=W, height=H, margin=dict(l=0, r=0, t=0, b=0, autoexpand=False),
    paper_bgcolor="white", plot_bgcolor="white",
    font=dict(family=FONT, size=15, color="black"),
    shapes=shapes, annotations=annotations, showlegend=True,
    **layout_extra,
)

fig.write_html("out.html", config={"displayModeBar": False},
               post_script="document.body.style.margin='0px';")
